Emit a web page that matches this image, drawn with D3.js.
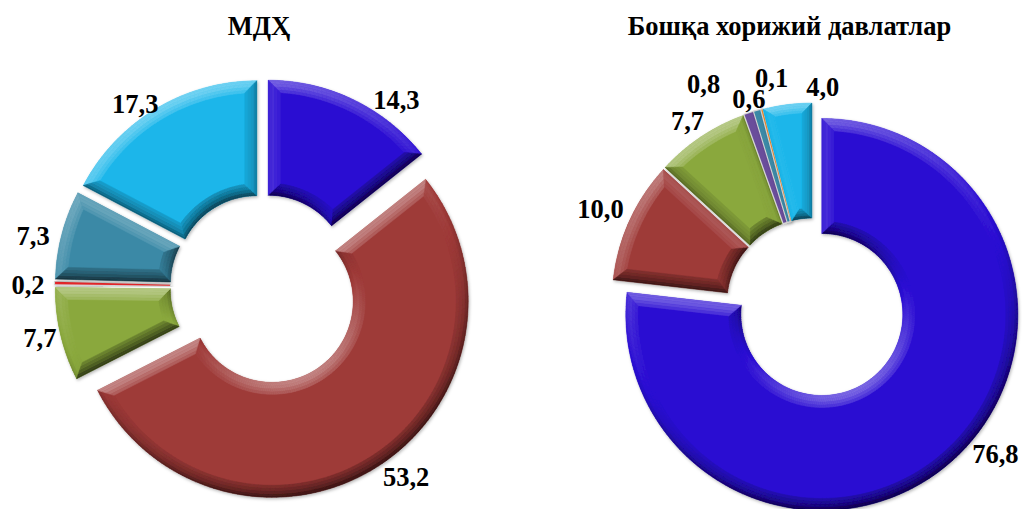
<!DOCTYPE html>
<html><head><meta charset="utf-8">
<script src="https://cdn.jsdelivr.net/npm/d3@7"></script>
<style>html,body{margin:0;padding:0;background:#fff;} svg{display:block}</style>
</head><body>
<svg id="chart" width="1022" height="509"></svg>
<script>
// ---- data ----
const leftTitle = "МДҲ";
const leftValues = [14.3, 53.2, 7.7, 0.2, 7.3, 17.3];
const leftColors = ["#2a0cd2", "#9e3a38", "#8aa83d", "#e8282a", "#3a89a6", "#1ab6ea"];

const rightTitle = "Бошқа хорижий давлатлар";
const rightValues = [76.8, 10.0, 7.7, 0.8, 0.6, 0.1, 4.0];
const rightColors = ["#2a0cd2", "#9e3a38", "#8aa83d", "#6b4e9b", "#3a89a6", "#f08a2c", "#1ab6ea"];

// ---- layout / style ----
const leftExplode  = [12, 17, 12, 12, 12, 12];
const rightExplode = [14, 5, 5, 5, 5, 5, 5];
const leftNudge  = [[37,13],[23,3],[-7,1],[-13,2],[-15,5],[-13,7]];
const rightNudge = [[35,-16],[-10,-3],[-2,2],[-39,-9],[-3,9],[15,-11],[38,3]];

const svg = d3.select("#chart");
const FONT = "Liberation Serif, Times New Roman, serif";
const FS = 26.5;
const B = 12; // bevel width
const LIGHT = (() => { const x = -0.38, y = -0.92, m = Math.hypot(x, y); return [x / m, y / m]; })();
const P = (r, a) => [r * Math.sin(a), -r * Math.cos(a)];
const fmt = v => d3.format(".1f")(v).replace(".", ",");

const defs = svg.append("defs");
const f = defs.append("filter").attr("id", "shadow").attr("x", "-10%").attr("y", "-10%").attr("width", "130%").attr("height", "130%");
f.append("feDropShadow").attr("dx", 1).attr("dy", 1.5).attr("stdDeviation", 1.5)
  .attr("flood-color", "#000").attr("flood-opacity", 0.28);

function shade(base, k) {
  k = Math.max(-1, Math.min(1, k));
  return k >= 0 ? d3.interpolateRgb(base, "#ffffff")(0.5 * k)
                : d3.interpolateRgb(base, "#000000")(-0.62 * k);
}

function bevel(sg, a0, a1, r0, r1, base) {
  const span = a1 - a0;
  const b = Math.min(B, span * r0 / 2 * 0.95);
  if (b < 2) return false;
  const steps = [0, 0.12, 0.3, 0.55, 0.8, 1];
  const outerPt = (t, u) => { const rr = r1 - t * b, ins = t * b / rr; return P(rr, a0 + ins + (span - 2 * ins) * u); };
  const innerPt = (t, u) => { const rr = r0 + t * b, ins = t * b / rr; return P(rr, a0 + ins + (span - 2 * ins) * u); };
  const N = Math.max(2, Math.ceil(span / 0.025));
  const polys = [];
  const dot = n => n[0] * LIGHT[0] + n[1] * LIGHT[1];
  for (let s = 0; s < steps.length - 1; s++) {
    const t0 = steps[s], t1 = steps[s + 1], tm = (t0 + t1) / 2, fac = 1 - 0.7 * tm;
    const rim = 0.22 * Math.max(0, 1 - tm / 0.35);
    for (let j = 0; j < N; j++) {
      const u0 = j / N, u1 = (j + 1) / N, am = a0 + span * (j + 0.5) / N;
      const nO = [Math.sin(am), -Math.cos(am)];
      polys.push({ pts: [outerPt(t0, u0), outerPt(t0, u1), outerPt(t1, u1), outerPt(t1, u0)], k: dot(nO) * fac - rim });
      polys.push({ pts: [innerPt(t0, u0), innerPt(t0, u1), innerPt(t1, u1), innerPt(t1, u0)], k: -dot(nO) * fac - rim });
    }
    const nS = [-Math.cos(a0), -Math.sin(a0)], nE = [Math.cos(a1), Math.sin(a1)];
    polys.push({ pts: [outerPt(t0, 0), innerPt(t0, 0), innerPt(t1, 0), outerPt(t1, 0)], k: dot(nS) * fac - rim });
    polys.push({ pts: [outerPt(t0, 1), innerPt(t0, 1), innerPt(t1, 1), outerPt(t1, 1)], k: dot(nE) * fac - rim });
  }
  const line = d3.line();
  sg.selectAll("path.facet").data(polys).join("path")
    .attr("class", "facet")
    .attr("d", d => line(d.pts) + "Z")
    .attr("fill", d => shade(base, d.k))
    .attr("stroke", d => shade(base, d.k))
    .attr("stroke-width", 0.5)
    .attr("stroke-linejoin", "round");
  return true;
}

function drawDonut(cfg) {
  const { cx, cy, R, r, values, colors, explode, nudge, title, titleX, titleY } = cfg;
  const pie = d3.pie().sort(null).value(d => d);
  const arcs = pie(values);
  const arc = d3.arc().innerRadius(r).outerRadius(R);
  const labelArc = d3.arc().innerRadius(222).outerRadius(222);
  const g = svg.append("g").attr("transform", `translate(${cx},${cy})`);
  arcs.forEach((d, i) => {
    const mid = (d.startAngle + d.endAngle) / 2;
    const [ox, oy] = P(explode[i], mid);
    const sg = g.append("g").attr("transform", `translate(${ox},${oy})`).attr("filter", "url(#shadow)");
    const span = d.endAngle - d.startAngle;
    if (span * r / 2 * 0.95 < 2) {
      sg.append("path").attr("d", arc(d)).attr("fill", "#d4d4d4")
        .attr("stroke", "#d4d4d4").attr("stroke-width", 2.2).attr("stroke-linejoin", "round");
      sg.append("path").attr("d", arc(d)).attr("fill", colors[i]);
    } else {
      sg.append("path").attr("d", arc(d)).attr("fill", colors[i]);
      bevel(sg, d.startAngle, d.endAngle, r, R, colors[i]);
    }
  });
  g.selectAll("text.lbl").data(arcs).join("text")
    .attr("class", "lbl")
    .attr("x", (d, i) => labelArc.centroid(d)[0] + nudge[i][0])
    .attr("y", (d, i) => labelArc.centroid(d)[1] + nudge[i][1])
    .attr("dy", "0.34em")
    .attr("text-anchor", "middle")
    .style("font-family", FONT).style("font-weight", "bold").style("font-size", FS + "px")
    .attr("fill", "#000")
    .text(d => fmt(d.data));
  svg.append("text").attr("x", titleX).attr("y", titleY)
    .attr("text-anchor", "middle")
    .style("font-family", FONT).style("font-weight", "bold").style("font-size", FS + "px")
    .attr("fill", "#000").text(title);
}

drawDonut({ cx: 263, cy: 287, R: 196, r: 81, values: leftValues, colors: leftColors,
  explode: leftExplode, nudge: leftNudge, title: leftTitle, titleX: 259, titleY: 35 });
drawDonut({ cx: 812.5, cy: 304, R: 196, r: 81, values: rightValues, colors: rightColors,
  explode: rightExplode, nudge: rightNudge, title: rightTitle, titleX: 789.5, titleY: 35 });
</script>
</body></html>
